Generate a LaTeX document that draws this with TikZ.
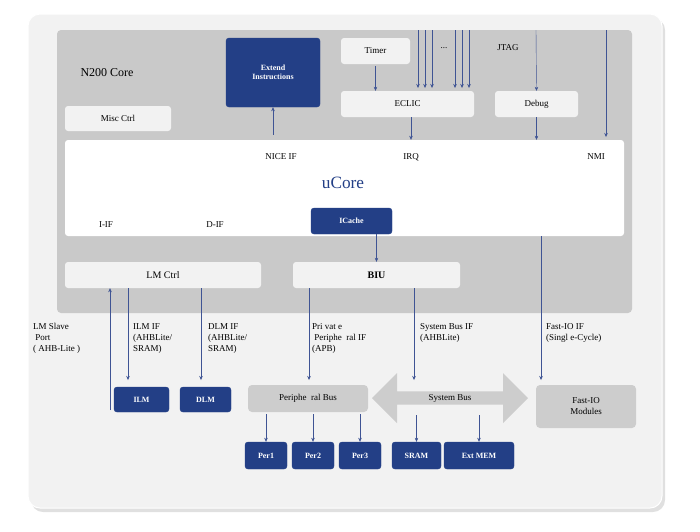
\documentclass[tikz,border=0pt]{standalone}
\usepackage{fontspec}
\setmainfont{Liberation Serif}
\usetikzlibrary{arrows.meta, shapes.arrows, positioning, calc}
\definecolor{navy}{HTML}{233F86}
\definecolor{wire}{HTML}{3F5494}
\definecolor{coregray}{HTML}{C9C9C9}
\definecolor{boxgray}{HTML}{CDCDCD}
\definecolor{paper}{HTML}{F2F2F2}
\tikzset{
  blk/.style={draw=navy, fill=navy, rounded corners=3pt, text=white, font=\bfseries\footnotesize, align=center, inner sep=0pt},
  lgt/.style={fill=paper, rounded corners=3pt, font=\small, inner sep=0pt},
  gbx/.style={fill=boxgray, rounded corners=4pt, font=\small, align=center, inner sep=0pt},
  lbl/.style={font=\small, align=left, anchor=north west, inner sep=0pt},
  wr/.style={draw=wire, -{Stealth[length=4pt,width=3.5pt]}}
}
\begin{document}
\begin{tikzpicture}[x=1pt,y=-1pt]
    \useasboundingbox (0,0) rectangle (700,531);
    % card
    \fill[black!12, rounded corners=12pt] (31,18) rectangle (665,512);
    \fill[paper, rounded corners=12pt, draw=white, line width=1pt] (28,14) rectangle (662,508);
    % core region
    \fill[coregray, rounded corners=4pt] (57,30) rectangle (632,313);
    \node[font=\large, anchor=west] (title) at (77,73) {N200 Core};

    % upper blocks
    \node[blk, minimum width=94pt, minimum height=69pt] (ext) at (273,72.5) {Extend\\Instructions};
    \node[lgt, minimum width=69pt, minimum height=26pt] (timer) at (375.5,51) {Timer};
    \node[lgt, minimum width=133pt, minimum height=26pt] (eclic) at (407.5,104) {ECLIC};
    \node[lgt, minimum width=83pt, minimum height=26pt] (debug) at (536.5,104) {Debug};
    \node[lgt, minimum width=106pt, minimum height=25pt] (misc) at (118,118.5) {Misc Ctrl};
    \node[font=\small] (dots) at (444,48) {...};
    \node[font=\small] (jtag) at (508,48) {JTAG};

    % uCore
    \node[fill=white, rounded corners=3pt, minimum width=559pt, minimum height=96pt, inner sep=0pt] (ucore) at (344.5,188) {};
    \node[font=\LARGE, text=navy] (ucname) at (343,183) {uCore};
    \node[font=\small] (niceif) at (281,157) {NICE IF};
    \node[font=\small] (irq) at (411,157) {IRQ};
    \node[font=\small] (nmi) at (596,157) {NMI};
    \node[font=\small] (iif) at (106,225) {I-IF};
    \node[font=\small] (dif) at (215,225) {D-IF};
    \node[blk, minimum width=81pt, minimum height=26pt] (icache) at (351.5,221) {ICache};

    \node[lgt, font=\normalsize, minimum width=196pt, minimum height=26pt] (lmctrl) at (163,275) {LM Ctrl};
    \node[lgt, font=\bfseries\normalsize, minimum width=167pt, minimum height=26pt] (biu) at (376.5,275) {BIU};

    % top wires
    \coordinate (top) at (0,30);
    \draw[wr] (ucore.north -| ext) ++(0,-5) coordinate (nicep) -- (ext.south);
    \draw[wr] (timer) ++(0,15) -- (timer |- eclic.north);
    \foreach \x in {418,425,432,455,462,469}
        \draw[wr] (\x,30) -- (\x,88);
    \draw[wr] (536,30) -- (debug.north);
    \draw[wr] (debug.south) -- (debug.south |- ucore.north);
    \draw[wr] (eclic.south -| irq) -- (irq |- ucore.north);
    \draw[wr] (606,30) -- (606,137);
    \draw[wr] (icache.south -| biu) -- (biu.north);

    % lower blocks
    \node[blk, minimum width=55pt, minimum height=25pt] (ilm) at (141.5,399.5) {ILM};
    \node[blk, minimum width=51pt, minimum height=25pt] (dlm) at (205.5,399.5) {DLM};
    \node[gbx, minimum width=120pt, minimum height=27pt] (pbus) at (308,398.5) {Periphe\ \ ral Bus};
    \node[single arrow, double arrow, fill=boxgray, minimum width=50pt, single arrow head extend=10pt, double arrow head extend=11.5pt, minimum height=156pt, inner sep=0pt, font=\small] (sbus) at (450,398) {System Bus};
    \node[gbx, minimum width=100pt, minimum height=43pt] (fio) at (586,406.5) {Fast-IO\\Modules};
    \node[blk, minimum width=42pt, minimum height=27pt] (per1) at (266,455.5) {Per1};
    \node[blk, minimum width=42pt, minimum height=27pt] (per2) at (313,455.5) {Per2};
    \node[blk, minimum width=42pt, minimum height=27pt] (per3) at (360,455.5) {Per3};
    \node[blk, minimum width=49pt, minimum height=27pt] (sram) at (416.5,455.5) {SRAM};
    \node[blk, minimum width=70pt, minimum height=27pt] (extmem) at (479,455.5) {Ext MEM};

    % lower wires
    \coordinate (lmport) at (110,410);
    \draw[wr] (lmport) -- (lmport |- lmctrl.south);
    \draw[wr] (lmctrl.south -| 128,0) -- (128,380);
    \draw[wr] (lmctrl.south -| 201,0) -- (201,380);
    \draw[wr] (biu.south -| 309,0) -- (309,380);
    \draw[wr] (biu.south -| 414,0) -- (414,380);
    \draw[wr] (ucore.south -| 541,0) -- (541,380);
    \foreach \n in {per1,per2,per3}
        \draw[wr] (\n |- pbus.south) ++(0,2) -- (\n.north);
    \foreach \n in {sram,extmem}
        \draw[wr] (\n |- 0,415) -- (\n.north);

    % interface labels
    \node[lbl] (lmlbl) at (33,323) {LM Slave\\\ Port\\( AHB-Lite\ )};
    \node[lbl] (ilmlbl) at (133,323) {ILM IF\\(AHBLite/\\SRAM)};
    \node[lbl] (dlmlbl) at (208,323) {DLM IF\\(AHBLite/\\SRAM)};
    \node[lbl] (pplbl) at (312,323) {Pri vat e\\\ Periphe\ \ ral IF\\(APB)};
    \node[lbl] (sblbl) at (420,323) {System Bus IF\\(AHBLite)};
    \node[lbl] (fiolbl) at (546,323) {Fast-IO IF\\(Singl e-Cycle)};
\end{tikzpicture}
\end{document}
